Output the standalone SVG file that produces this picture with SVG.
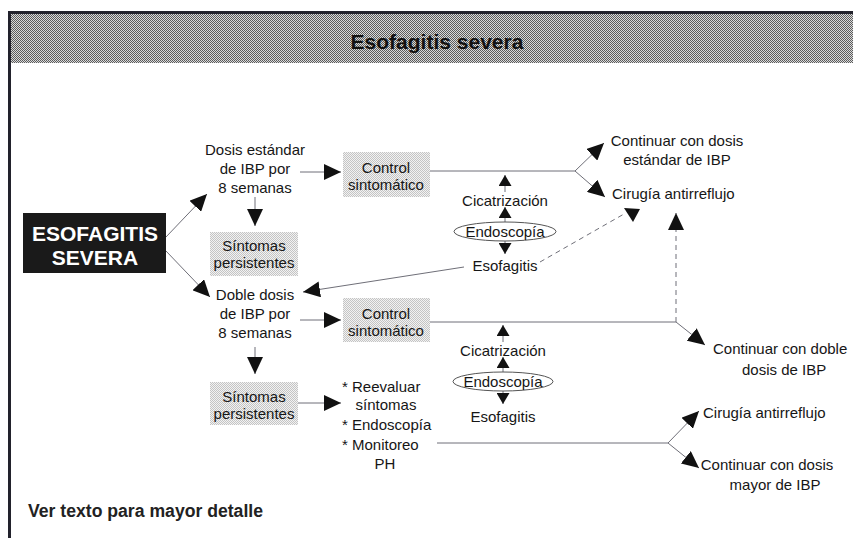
<svg xmlns="http://www.w3.org/2000/svg" width="853" height="538" viewBox="0 0 853 538">
<style>
text{font-family:"Liberation Sans",Arial,sans-serif;fill:#161616;}
.t{font-size:15px;}
.c{text-anchor:middle;}
.ln{stroke:#6f6f78;stroke-width:1;fill:none;}
.lnd{stroke:#6f6f78;stroke-width:1;fill:none;stroke-dasharray:5 4;}
.box{fill:url(#lite);}
.big{marker-end:url(#ah);}
.sm{marker-end:url(#as);}
.ell{fill:#fff;stroke:#555;stroke-width:1;}
</style>
<defs>
<pattern id="dots" width="2" height="2" patternUnits="userSpaceOnUse">
<rect width="2" height="2" fill="#dadada"/>
<rect width="1" height="1" fill="#5c5c5c"/>
<rect x="1" y="1" width="1" height="1" fill="#5c5c5c"/>
</pattern>
<pattern id="lite" width="2" height="2" patternUnits="userSpaceOnUse">
<rect width="2" height="2" fill="#f2f2f2"/>
<rect width="1" height="1" fill="#c4c4c4"/>
<rect x="1" y="1" width="1" height="1" fill="#c4c4c4"/>
</pattern>
<marker id="ah" viewBox="0 0 17 16" markerWidth="17" markerHeight="16" refX="17" refY="8" orient="auto" markerUnits="userSpaceOnUse">
<path d="M0,0 L17,8 L0,16 z" fill="#111"/>
</marker>
<marker id="as" viewBox="0 0 11 13" markerWidth="11" markerHeight="13" refX="11" refY="6.5" orient="auto" markerUnits="userSpaceOnUse">
<path d="M0,0 L11,6.5 L0,13 z" fill="#111"/>
</marker>
</defs>
<rect width="853" height="538" fill="#fff"/>

<g id="header">
<rect x="9" y="13" width="844" height="50" fill="url(#dots)"/>
<rect x="9" y="11" width="844" height="3" fill="#22222c"/>
<rect x="8" y="11" width="3" height="527" fill="#22222c"/>
<text x="437" y="49" class="c" style="font-size:21px;font-weight:bold;fill:#111">Esofagitis severa</text>
</g>

<g id="connectors">
<line class="ln big" x1="166" y1="237" x2="207" y2="194"/>
<line class="ln big" x1="166" y1="251" x2="210" y2="297"/>
<line class="ln big" x1="300" y1="172" x2="341" y2="172"/>
<line class="ln big" x1="255" y1="197" x2="255" y2="226"/>
<line class="ln big" x1="300" y1="320" x2="341" y2="320"/>
<line class="ln big" x1="255" y1="347" x2="255" y2="374"/>
<line class="ln big" x1="298" y1="403" x2="341" y2="403"/>
<polyline class="ln" points="430,171 575,171"/>
<line class="ln big" x1="575" y1="171" x2="604" y2="143"/>
<line class="ln big" x1="575" y1="171" x2="605" y2="197"/>
<line class="ln sm" x1="505" y1="192" x2="505" y2="175"/>
<line class="ln sm" x1="505" y1="222" x2="505" y2="207"/>
<line class="ln sm" x1="505" y1="240" x2="505" y2="254"/>
<line class="ln sm" x1="503" y1="342" x2="503" y2="325"/>
<line class="ln sm" x1="503" y1="372" x2="503" y2="357"/>
<line class="ln sm" x1="503" y1="390" x2="503" y2="404"/>
<line class="ln big" x1="464" y1="267" x2="303" y2="292"/>
<line class="lnd" x1="540" y1="262" x2="624" y2="214"/>
<polygon points="624,208 640,209 633,222" fill="#111"/>
<line class="lnd big" x1="676" y1="322" x2="676" y2="213"/>
<polyline class="ln" points="430,322 676,322"/>
<line class="ln big" x1="676" y1="322" x2="705" y2="345"/>
<polyline class="ln" points="437,443 668,443"/>
<line class="ln big" x1="668" y1="443" x2="699" y2="411"/>
<line class="ln big" x1="668" y1="443" x2="699" y2="468"/>
</g>

<g id="esofagitis-severa">
<rect x="23" y="213" width="143" height="60" fill="#1a1a1a"/>
<text x="95" y="241" class="c" style="font-size:21px;font-weight:bold;fill:#fff">ESOFAGITIS</text>
<text x="95" y="265" class="c" style="font-size:21px;font-weight:bold;fill:#fff">SEVERA</text>
</g>

<g id="dosis-estandar">
<text x="255" y="155" class="t c">Dosis estándar</text>
<text x="255" y="174" class="t c">de IBP por</text>
<text x="255" y="193" class="t c">8 semanas</text>
</g>

<g id="control-1">
<rect class="box" x="343" y="152" width="87" height="45"/>
<text x="386" y="173" class="t c">Control</text>
<text x="386" y="190" class="t c">sintomático</text>
</g>

<g id="sintomas-1">
<rect class="box" x="210" y="232" width="88" height="44"/>
<text x="254" y="251" class="t c">Síntomas</text>
<text x="254" y="268" class="t c">persistentes</text>
</g>

<g id="doble-dosis">
<text x="255" y="300" class="t c">Doble dosis</text>
<text x="255" y="319" class="t c">de IBP por</text>
<text x="255" y="338" class="t c">8 semanas</text>
</g>

<g id="control-2">
<rect class="box" x="343" y="298" width="87" height="44"/>
<text x="386" y="319" class="t c">Control</text>
<text x="386" y="336" class="t c">sintomático</text>
</g>

<g id="sintomas-2">
<rect class="box" x="210" y="382" width="88" height="43"/>
<text x="254" y="402" class="t c">Síntomas</text>
<text x="254" y="419" class="t c">persistentes</text>
</g>

<g id="reevaluar">
<text x="342" y="392" class="t">* Reevaluar</text>
<text x="386" y="410" class="t c">síntomas</text>
<text x="342" y="430" class="t">* Endoscopía</text>
<text x="342" y="450" class="t">* Monitoreo</text>
<text x="385" y="469" class="t c">PH</text>
</g>

<g id="endoscopia-1">
<text x="505" y="206" class="t c">Cicatrización</text>
<ellipse class="ell" cx="505" cy="231.5" rx="51" ry="9.5"/>
<text x="505" y="237" class="t c">Endoscopía</text>
<text x="505" y="271" class="t c">Esofagitis</text>
</g>

<g id="endoscopia-2">
<text x="503" y="356" class="t c">Cicatrización</text>
<ellipse class="ell" cx="503" cy="381.5" rx="50" ry="9.5"/>
<text x="503" y="387" class="t c">Endoscopía</text>
<text x="503" y="422" class="t c">Esofagitis</text>
</g>

<g id="continuar-estandar">
<text x="677" y="146" class="t c">Continuar con dosis</text>
<text x="677" y="165" class="t c">estándar de IBP</text>
</g>

<g id="cirugia-1">
<text x="612" y="199" class="t">Cirugía antirreflujo</text>
</g>

<g id="continuar-doble">
<text x="713" y="354" class="t">Continuar con doble</text>
<text x="742" y="375" class="t">dosis de IBP</text>
</g>

<g id="cirugia-2">
<text x="703" y="418" class="t">Cirugía antirreflujo</text>
</g>

<g id="continuar-mayor">
<text x="767" y="470" class="t c">Continuar con dosis</text>
<text x="775" y="490" class="t c">mayor de IBP</text>
</g>

<g id="nota">
<text x="28" y="517" textLength="235" lengthAdjust="spacingAndGlyphs" style="font-size:18px;font-weight:bold;fill:#222">Ver texto para mayor detalle</text>
</g>
</svg>
